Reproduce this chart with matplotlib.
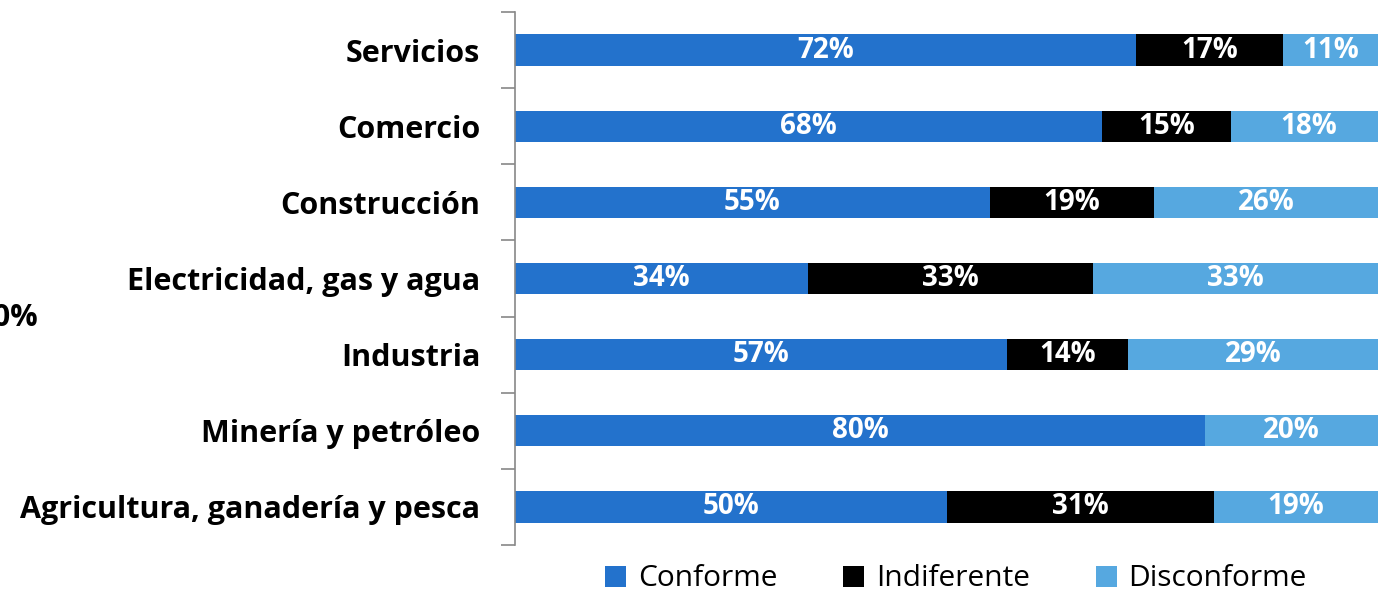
import matplotlib.pyplot as plt
import numpy as np

plt.rcParams['font.family'] = ['Open Sans', 'DejaVu Sans']

categories = ["Servicios", "Comercio", "Construcción", "Electricidad, gas y agua",
              "Industria", "Minería y petróleo", "Agricultura, ganadería y pesca"]
conforme = [72, 68, 55, 34, 57, 80, 50]
indiferente = [17, 15, 19, 33, 14, 0, 31]
disconforme = [11, 18, 26, 33, 29, 20, 19]

series_names = ["Conforme", "Indiferente", "Disconforme"]
colors = ["#2372CC", "#000000", "#56A8E0"]

fig = plt.figure(figsize=(13.78, 5.96), dpi=100)
ax = fig.add_axes([515 / 1378, 51 / 596, 1 - 515 / 1378, 533 / 596])

y = np.arange(len(categories))
left = np.zeros(len(categories))
for name, vals, col in zip(series_names, [conforme, indiferente, disconforme], colors):
    vals = np.array(vals, dtype=float)
    ax.barh(y, vals, left=left, height=0.41, color=col, label=name)
    # white percentage labels centred in each segment
    for yi, l, v in zip(y, left, vals):
        if v > 0:
            ax.text(l + v / 2, yi, f"{int(v)}%", ha='center', va='center',
                    color='white', fontsize=20, fontweight='bold')
    left += vals

ax.set_xlim(0, 100)
ax.set_ylim(len(categories) - 0.5, -0.5)
ax.set_yticks(y)
ax.set_yticklabels(categories, fontsize=22, fontweight='bold')
ax.set_yticks(np.arange(-0.5, len(categories)), minor=True)
ax.tick_params(axis='y', which='major', length=0, pad=25)
ax.tick_params(axis='y', which='minor', length=10, color='#888888', width=1.2)
ax.set_xticks([])
for s in ['top', 'right', 'bottom']:
    ax.spines[s].set_visible(False)
ax.spines['left'].set_color('#888888')
ax.spines['left'].set_linewidth(1.2)

# axis label cut off at the left edge in the original
fig.text(38 / 1378, 1 - 318 / 596, "100%", ha='right', va='center',
         fontsize=22, fontweight='bold')

handles, labels = ax.get_legend_handles_labels()
fig.legend(handles, labels, loc='center', bbox_to_anchor=(956 / 1378, 1 - 579 / 596),
           ncol=3, frameon=False, fontsize=21.5, handlelength=0.7, handleheight=0.7,
           columnspacing=2.2, handletextpad=0.4)

fig.savefig("out.png", dpi=100)
